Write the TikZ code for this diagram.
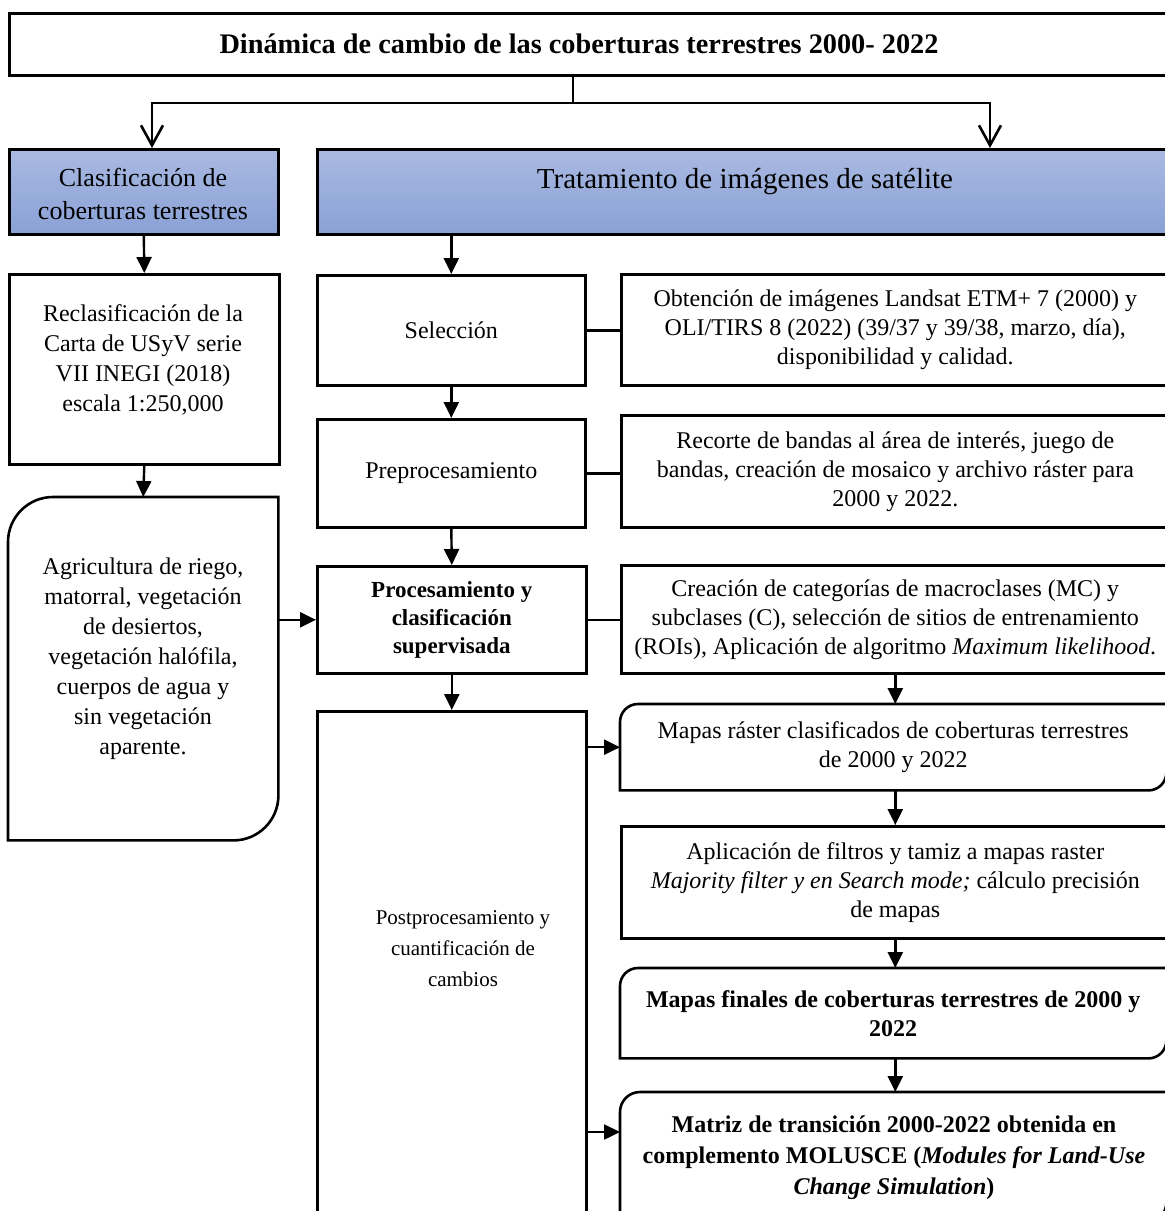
\documentclass[tikz,border=0pt]{standalone}
\usepackage{fontspec}
\setmainfont{Liberation Serif}
\usetikzlibrary{arrows.meta,calc}
\definecolor{bluetop}{HTML}{A9B9E1}
\definecolor{bluebot}{HTML}{8AA1D6}
\tikzset{
  lw/.style={line width=2.6pt},
  boxn/.style={draw, line width=2.6pt, anchor=north west, inner sep=0pt, align=center},
  rbox/.style={draw=none, anchor=north west, inner sep=0pt, align=center},
  hdr/.style={boxn, top color=bluetop, bottom color=bluebot},
  tarrow/.style={line width=2.4pt, -{Triangle[length=16pt,width=15pt]}},
  varrow/.style={line width=2.6pt, -{Straight Barb[length=20pt,width=22pt,line width=2.6pt]}},
  conn/.style={line width=2.4pt},
  body/.style={font=\fontsize{24}{29}\selectfont},
  bodyb/.style={font=\fontsize{24}{29}\selectfont\bfseries},
  txt/.style={align=center, inner sep=0pt},
}
\newcommand\rdiagbox[2]{\draw[lw] ([yshift=-#2pt]#1.north west) .. controls ([yshift=-0.4477*#2pt]#1.north west) and ([xshift=0.4477*#2pt]#1.north west) .. ([xshift=#2pt]#1.north west) -- (#1.north east) -- ([yshift=#2pt]#1.south east) .. controls ([yshift=0.4477*#2pt]#1.south east) and ([xshift=-0.4477*#2pt]#1.south east) .. ([xshift=-#2pt]#1.south east) -- (#1.south west) -- cycle;}
\begin{document}
\begin{tikzpicture}[x=1pt,y=-1pt]
\useasboundingbox (0,0) rectangle (1165,1211);
\fill[white] (0,0) rectangle (1165,1211);
\clip (0,0) rectangle (1165,1211);
% title
\node[boxn, minimum width=1160pt, minimum height=62pt] (T) at (8,12) {};
\node[font=\fontsize{28.3}{32}\selectfont\bfseries] (Tt) at (579,44) {Dinámica de cambio de las coberturas terrestres 2000- 2022};
% headers
\node[hdr, minimum width=269pt, minimum height=85pt] (C) at (8,148) {};
\node[txt, font=\fontsize{26}{33}\selectfont] (Ct) at (143,194) {Clasificación de\\coberturas terrestres};
\node[hdr, minimum width=852pt, minimum height=85pt] (Tr) at (316,148) {};
\node[font=\fontsize{29}{33}\selectfont] (Trt) at (745,182) {Tratamiento de imágenes de satélite};
% left column
\node[boxn, minimum width=270pt, minimum height=190pt] (R) at (8,273) {};
\node[txt, font=\fontsize{24}{30}\selectfont] (Rt) at (143,360) {Reclasificación de la\\Carta de USyV serie\\VII INEGI (2018)\\escala 1:250,000};
\node[rbox, minimum width=270pt, minimum height=343pt] (A) at (8,497) {};
\rdiagbox{A}{45}
\node[txt, font=\fontsize{24}{30}\selectfont] (At) at (143,659) {Agricultura de riego,\\matorral, vegetación\\de desiertos,\\vegetación halófila,\\cuerpos de agua y\\sin vegetación\\aparente.};
% middle column
\node[boxn, body, minimum width=268pt, minimum height=110pt] (S) at (316,274) {Selección};
\node[boxn, body, minimum width=268pt, minimum height=108pt] (P) at (316,418) {Preprocesamiento};
\node[boxn, font=\fontsize{23}{28}\selectfont\bfseries, minimum width=269pt, minimum height=107pt] (Pr) at (316,565) {Procesamiento y\\clasificación\\supervisada};
\node[boxn, minimum width=269pt, minimum height=520pt] (Po) at (316,710) {};
\node[txt, font=\fontsize{21}{31}\selectfont] (Pot) at (463,949) {Postprocesamiento y\\cuantificación de\\cambios};
% right column
\node[boxn, body, minimum width=548pt, minimum height=111pt] (O) at (620,273) {Obtención de imágenes Landsat ETM+ 7 (2000) y\\OLI/TIRS 8 (2022) (39/37 y 39/38, marzo, día),\\disponibilidad y calidad.};
\node[boxn, body, minimum width=548pt, minimum height=112pt] (Re) at (620,414) {Recorte de bandas al área de interés, juego de\\bandas, creación de mosaico y archivo ráster para\\2000 y 2022.};
\node[boxn, body, minimum width=548pt, minimum height=108pt] (Cr) at (620,564) {Creación de categorías de macroclases (MC) y\\subclases (C), selección de sitios de entrenamiento\\(ROIs), Aplicación de algoritmo \textit{Maximum likelihood}.};
\node[rbox, body, minimum width=546pt, minimum height=86pt] (M1) at (620,704) {Mapas ráster clasificados de coberturas terrestres\\de 2000 y 2022};
\rdiagbox{M1}{18}
\node[boxn, body, minimum width=548pt, minimum height=112pt] (Ap) at (620,825) {Aplicación de filtros y tamiz a mapas raster\\\textit{Majority filter y en Search mode;} cálculo precisión\\de mapas};
\node[rbox, bodyb, minimum width=546pt, minimum height=90pt] (M2) at (620,968) {Mapas finales de coberturas terrestres de 2000 y\\2022};
\rdiagbox{M2}{18}
\node[rbox, minimum width=546pt, minimum height=130pt] (Mx) at (620,1092) {};
\rdiagbox{Mx}{20}
\node[txt, font=\fontsize{24}{31}\selectfont\bfseries] (Mxt) at (894,1158) {Matriz de transición 2000-2022 obtenida en\\complemento MOLUSCE (\textit{Modules for Land-Use}\\\textit{Change Simulation})};
% top connectors
\coordinate (j) at (573,103);
\coordinate (jl) at (152,103);
\coordinate (jr) at (990,103);
\draw[conn] (T.south -| j) -- (j);
\draw[varrow] (j) -- (jl) -- (jl |- C.north);
\draw[varrow] (j) -- (jr) -- (jr |- Tr.north);
% vertical arrows
\draw[tarrow] (C.south) -- (R.north);
\draw[tarrow] (R.south) -- (A.north);
\draw[tarrow] (S.north |- Tr.south) -- (S.north);
\draw[tarrow] (S.south) -- (P.north);
\draw[tarrow] (P.south) -- (Pr.north);
\draw[tarrow] (Pr.south) -- (Po.north);
\draw[tarrow] (Cr.south) -- (Cr.south |- M1.north);
\draw[tarrow] (M1.south -| Cr.south) -- (Ap.north);
\draw[tarrow] (Ap.south) -- (Ap.south |- M2.north);
\draw[tarrow] (M2.south -| Ap.south) -- (Ap.south |- Mx.north);
% horizontal links
\draw[tarrow] (A.east |- Pr.west) -- (Pr.west);
\draw[conn] (S.east) -- (O.west |- S.east);
\draw[conn] (P.east) -- (Re.west |- P.east);
\draw[conn] (Pr.east) -- (Cr.west |- Pr.east);
\draw[tarrow] (Po.east |- M1.west) -- (M1.west);
\coordinate (mx) at (620,1132);
\draw[tarrow] (Po.east |- mx) -- (mx);
\end{tikzpicture}
\end{document}
